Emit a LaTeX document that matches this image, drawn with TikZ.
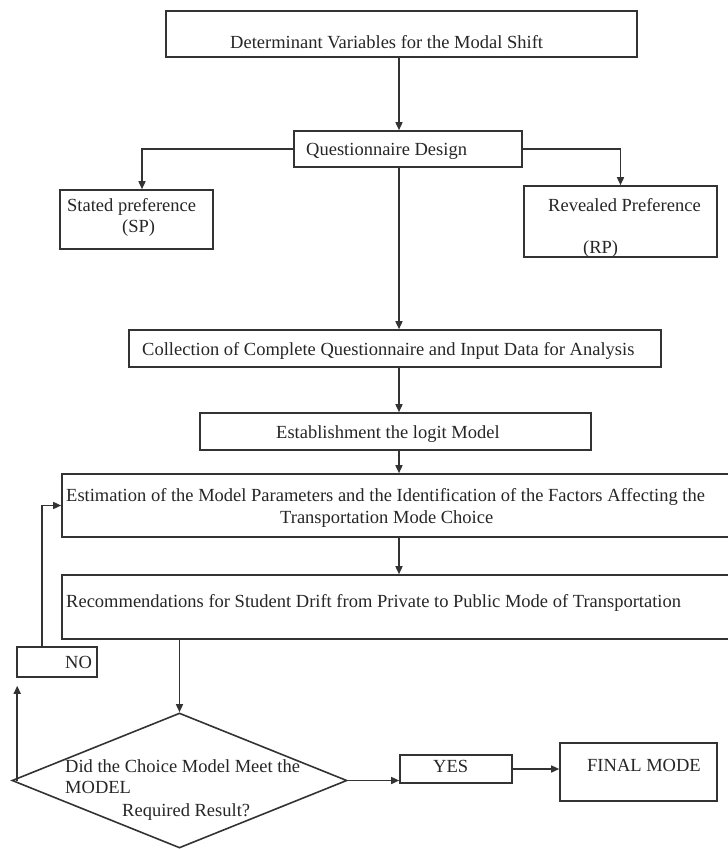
\documentclass[tikz,border=0pt]{standalone}
\usepackage{fontspec}
\setmainfont{Liberation Serif}
\usetikzlibrary{shapes.geometric,arrows.meta}
\definecolor{linec}{HTML}{333333}
\begin{document}
\begin{tikzpicture}[x=1pt,y=-1pt,
  bx/.style={draw=linec, line width=1.6pt, rectangle, inner sep=0pt},
  txt/.style={anchor=base west, inner sep=0pt, font=\fontsize{18.5}{21}\selectfont, text=black!85},
  arr/.style={draw=linec, line width=1.5pt, -{Triangle[length=8pt,width=7pt]}}]
\useasboundingbox (0,0) rectangle (728,849);
% boxes
\node[bx, minimum width=471pt, minimum height=46pt] (top) at (401.5,34) {};
\node[bx, minimum width=228pt, minimum height=36pt] (q) at (408,149) {};
\node[bx, minimum width=153pt, minimum height=59pt] (sp) at (136.5,219.5) {};
\node[bx, minimum width=193pt, minimum height=71pt] (rp) at (620.5,221.5) {};
\node[bx, minimum width=532pt, minimum height=37pt] (col) at (395,348.5) {};
\node[bx, minimum width=391pt, minimum height=37pt] (est1) at (395.5,431.5) {};
\node[bx, minimum width=668pt, minimum height=63pt] (est) at (396,505.5) {};
\node[bx, minimum width=668pt, minimum height=64pt] (rec) at (396,607) {};
\node[bx, minimum width=80pt, minimum height=30pt] (no) at (57,662) {};
\node[bx, minimum width=112pt, minimum height=28pt] (yes) at (456,769) {};
\node[bx, minimum width=157pt, minimum height=58pt] (fin) at (638.5,772) {};
\node[draw=linec, line width=1.6pt, diamond, inner sep=0pt, minimum width=335pt, minimum height=135pt] (dia) at (179.5,780.5) {};
% texts
\node[txt] (ttop) at (230,48) {Determinant Variables for the Modal Shift};
\node[txt] (tq) at (306,155) {Questionnaire Design};
\node[txt] (tsp1) at (67,211) {Stated preference};
\node[txt] (tsp2) at (122,232) {(SP)};
\node[txt] (trp1) at (548,211) {Revealed Preference};
\node[txt] (trp2) at (583,253) {(RP)};
\node[txt] (tcol) at (142,355) {Collection of Complete Questionnaire and Input Data for Analysis};
\node[txt] (test1) at (276,438) {Establishment the logit Model};
\node[txt] (test2) at (66,501) {Estimation of the Model Parameters and the Identification of the Factors Affecting the};
\node[txt] (test3) at (280,523) {Transportation Mode Choice};
\node[txt] (trec) at (66,607) {Recommendations for Student Drift from Private to Public Mode of Transportation};
\node[txt] (tno) at (65,668) {NO};
\node[txt] (td1) at (65,772) {Did the Choice Model Meet the};
\node[txt] (td2) at (65,793) {MODEL};
\node[txt] (td3) at (122,816) {Required Result?};
\node[txt] (tyes) at (433,772) {YES};
\node[txt] (tfin) at (587,771) {FINAL MODE};
% helper coordinates
\coordinate (cx) at (399,0);
\coordinate (dl) at ([xshift=6pt]dia.west);
\coordinate (noin) at ([yshift=-8pt]no.south);
% connectors
\draw[arr] (top.south -| cx) -- (q.north -| cx);
\draw[arr] (q.west) -| ([xshift=5.5pt]sp.north);
\draw[arr] (q.east) -| (rp.north);
\draw[arr] (q.south -| cx) -- (col.north -| cx);
\draw[arr] (col.south -| cx) -- (est1.north -| cx);
\draw[arr] (est1.south -| cx) -- (est.north -| cx);
\draw[arr] (est.south -| cx) -- (rec.north -| cx);
\draw[arr] (rec.south -| dia.north) -- (dia.north);
\draw[arr] (dl) -- (dl |- noin);
\draw[arr] ([xshift=-15pt]no.north) |- (est.west);
\draw[arr] (dia.east) -- (dia.east -| yes.west);
\draw[arr] (yes.east) -- (yes.east -| fin.west);
\end{tikzpicture}
\end{document}
